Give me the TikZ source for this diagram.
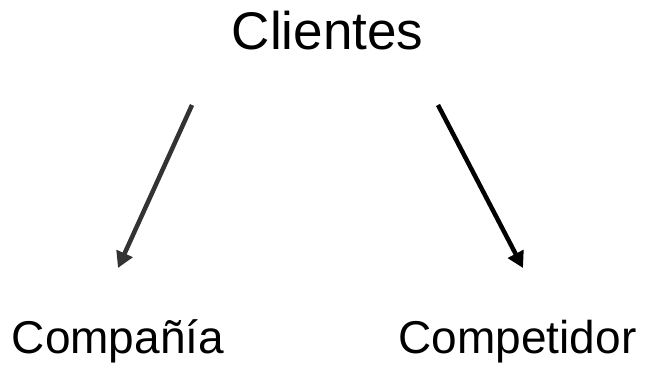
\documentclass[tikz,border=0pt]{standalone}
\usepackage{fontspec}
\setmainfont{Liberation Sans}
\usetikzlibrary{arrows.meta}
\tikzset{
  label/.style={inner sep=0pt, anchor=base},
  link/.style={line width=4.5pt, -{Triangle[length=16pt,width=17pt]}}
}
\begin{document}
\begin{tikzpicture}[x=1pt, y=-1pt]
  \useasboundingbox (0,0) rectangle (645,364);

  \node[label, font=\fontsize{53}{53}\selectfont] (clientes) at (327.5,49) {Clientes};
  \node[label, font=\fontsize{46}{46}\selectfont] (compania) at (118,353) {Compañía};
  \node[label, font=\fontsize{46}{46}\selectfont] (competidor) at (517.5,353) {Competidor};

  \coordinate (l1) at (192,105);
  \coordinate (l2) at (118,268);
  \coordinate (r1) at (438,105);
  \coordinate (r2) at (523,268);

  \draw[link, draw=black!80, fill=black!80] (l1) -- (l2);
  \draw[link] (r1) -- (r2);
\end{tikzpicture}
\end{document}
